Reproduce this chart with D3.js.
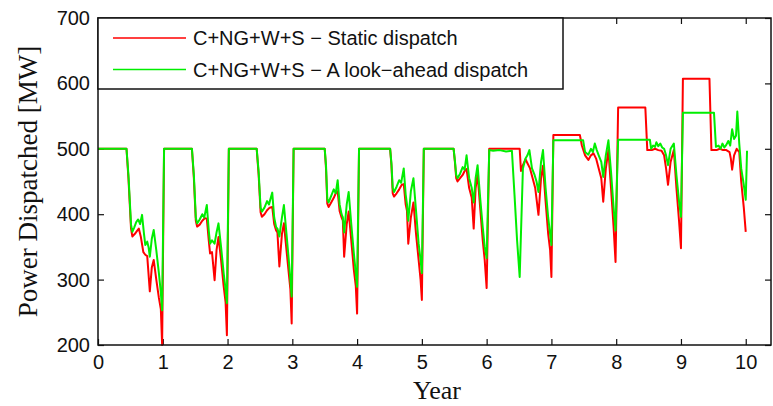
<!DOCTYPE html>
<html>
<head>
<meta charset="utf-8">
<script src="https://cdn.jsdelivr.net/npm/d3@7"></script>
<style>
  body { margin: 0; background: #fff; }
  svg { display: block; }
</style>
</head>
<body>
<div id="chart"></div>
<script>

// Chart size and margins
const width = 773;
const height = 406;
const margin = {left: 98, right: 2, top: 18, bottom: 61};

// Tick values
const xTicks = [0, 1, 2, 3, 4, 5, 6, 7, 8, 9, 10];
const yTicks = [200, 300, 400, 500, 600, 700];

// Series names
const seriesNames = ["C+NG+W+S \u2212 Static dispatch", "C+NG+W+S \u2212 A look\u2212ahead dispatch"];

// Static dispatch [year, MW]
const staticDispatch = [
  [0,500],[0.44,500],[0.47,455],[0.51,378],[0.53,366],[0.57,370],[0.60,374],[0.63,378],[0.66,366],[0.70,342],[0.73,338],[0.76,336],[0.80,282],[0.83,318],[0.86,330],[0.90,300],[0.94,272],[0.97,255],[0.99,200],[1.02,500],
  [1.45,500],[1.48,455],[1.51,390],[1.53,381],[1.57,384],[1.61,390],[1.65,394],[1.68,393],[1.71,360],[1.73,340],[1.76,342],[1.80,299],[1.83,345],[1.86,365],[1.90,330],[1.94,290],[1.97,265],[1.99,215],[2.02,500],
  [2.45,500],[2.48,460],[2.51,403],[2.53,396],[2.57,400],[2.61,406],[2.65,410],[2.69,411],[2.72,385],[2.75,375],[2.77,372],[2.80,320],[2.84,370],[2.87,386],[2.91,345],[2.95,305],[2.97,285],[2.99,233],[3.02,500],
  [3.50,500],[3.52,470],[3.54,416],[3.56,411],[3.60,418],[3.64,425],[3.67,432],[3.70,435],[3.73,405],[3.76,395],[3.78,390],[3.80,335],[3.84,385],[3.87,404],[3.91,360],[3.95,315],[3.98,290],[4.00,248],[4.03,500],
  [4.51,500],[4.53,475],[4.55,432],[4.57,427],[4.61,432],[4.65,438],[4.69,445],[4.72,446],[4.75,415],[4.77,405],[4.79,355],[4.83,395],[4.87,418],[4.91,370],[4.95,330],[4.98,300],[5.00,269],[5.03,500],
  [5.49,500],[5.51,480],[5.53,455],[5.55,450],[5.59,455],[5.63,460],[5.66,466],[5.69,469],[5.73,440],[5.77,425],[5.80,378],[5.83,440],[5.86,461],[5.90,410],[5.94,360],[5.97,330],[6.00,287],[6.04,500],
  [6.51,500],[6.53,466],[6.56,475],[6.60,484],[6.63,478],[6.67,470],[6.71,455],[6.75,440],[6.80,399],[6.84,455],[6.87,474],[6.91,420],[6.95,370],[6.98,345],[7.00,304],[7.03,521],
  [7.44,521],[7.47,505],[7.52,490],[7.57,483],[7.61,490],[7.65,493],[7.69,485],[7.73,470],[7.77,455],[7.80,419],[7.84,470],[7.88,498],[7.92,440],[7.96,380],[7.99,327],[8.03,563],
  [8.45,563],[8.48,498],[8.55,498],[8.60,500],[8.65,498],[8.70,497],[8.74,490],[8.77,470],[8.80,445],[8.84,480],[8.89,498],[8.93,440],[8.97,390],[9.00,348],[9.03,607],
  [9.44,607],[9.47,498],[9.55,498],[9.60,500],[9.65,498],[9.70,498],[9.75,495],[9.77,485],[9.79,468],[9.82,490],[9.86,500],[9.90,495],[9.93,450],[9.97,410],[10.00,373]
];

// Look-ahead dispatch [year, MW]
const lookAheadDispatch = [
  [0,500],[0.44,500],[0.47,460],[0.51,384],[0.53,373],[0.56,380],[0.59,388],[0.62,392],[0.65,385],[0.68,399],[0.71,370],[0.73,353],[0.76,358],[0.78,350],[0.80,335],[0.83,362],[0.86,376],[0.90,345],[0.94,310],[0.97,280],[0.99,253],[1.02,500],
  [1.45,500],[1.48,460],[1.51,395],[1.53,386],[1.57,392],[1.61,400],[1.64,395],[1.68,414],[1.71,375],[1.73,355],[1.76,360],[1.80,355],[1.83,372],[1.86,386],[1.90,350],[1.94,310],[1.97,285],[1.99,264],[2.02,500],
  [2.45,500],[2.48,465],[2.51,410],[2.53,404],[2.57,410],[2.61,420],[2.64,415],[2.69,433],[2.72,395],[2.75,380],[2.77,378],[2.80,366],[2.84,395],[2.87,414],[2.91,370],[2.95,325],[2.97,300],[2.99,274],[3.02,500],
  [3.50,500],[3.52,475],[3.54,423],[3.56,418],[3.60,428],[3.64,438],[3.67,432],[3.70,452],[3.73,415],[3.76,400],[3.78,395],[3.80,372],[3.84,415],[3.87,434],[3.91,385],[3.95,340],[3.98,310],[4.00,289],[4.03,500],
  [4.51,500],[4.53,478],[4.55,440],[4.57,434],[4.61,442],[4.65,452],[4.68,448],[4.72,470],[4.75,430],[4.77,415],[4.79,390],[4.83,435],[4.87,455],[4.91,405],[4.95,355],[4.98,330],[5.00,310],[5.03,500],
  [5.49,500],[5.51,482],[5.53,460],[5.55,455],[5.59,462],[5.63,472],[5.66,468],[5.69,490],[5.73,455],[5.77,440],[5.80,418],[5.83,455],[5.86,475],[5.90,425],[5.94,380],[5.97,350],[6.00,333],[6.04,498],
  [6.10,497],[6.20,498],[6.30,496],[6.39,497],[6.43,430],[6.47,360],[6.51,304],[6.56,470],[6.60,485],[6.63,490],[6.66,498],[6.70,470],[6.74,460],[6.77,450],[6.80,434],[6.84,480],[6.87,498],[6.91,440],[6.95,395],[6.98,370],[7.00,353],[7.03,513],
  [7.49,513],[7.52,495],[7.57,491],[7.61,500],[7.64,495],[7.67,508],[7.70,498],[7.73,490],[7.77,480],[7.80,457],[7.84,490],[7.88,513],[7.92,465],[7.96,410],[7.99,375],[8.03,514],
  [8.52,514],[8.54,500],[8.57,505],[8.60,503],[8.62,510],[8.65,504],[8.68,508],[8.71,502],[8.74,500],[8.77,490],[8.80,475],[8.84,500],[8.89,508],[8.93,460],[8.97,420],[9.00,396],[9.03,555],
  [9.51,555],[9.54,503],[9.58,505],[9.61,500],[9.64,508],[9.67,502],[9.70,506],[9.73,512],[9.76,505],[9.79,530],[9.82,515],[9.85,520],[9.87,557],[9.90,508],[9.93,470],[9.97,445],[10.00,422],[10.02,497]
];

const colors = ["#ff0000", "#00ee00"];

const svg = d3.select("#chart")
  .append("svg")
  .attr("width", width)
  .attr("height", height);

// Scales
const xScale = d3.scaleLinear()
  .domain([0, 10.39])
  .range([margin.left, width - margin.right]);

const yScale = d3.scaleLinear()
  .domain([200, 700])
  .range([height - margin.bottom, margin.top]);

/*
  Axes (matlab style box, ticks inside on all four sides)
*/
const tickLen = 6;

svg.append("g")
  .attr("transform", `translate(0,${height - margin.bottom})`)
  .call(d3.axisBottom(xScale).tickValues(xTicks).tickSize(-tickLen).tickPadding(10).tickFormat(d3.format("d")))
  .call(g => g.select(".domain").remove())
  .attr("font-size", "20px")
  .attr("font-family", "Liberation Sans, Arial, sans-serif");

svg.append("g")
  .attr("transform", `translate(0,${margin.top})`)
  .call(d3.axisTop(xScale).tickValues(xTicks).tickSize(-tickLen).tickFormat(""))
  .call(g => g.select(".domain").remove());

svg.append("g")
  .attr("transform", `translate(${margin.left},0)`)
  .call(d3.axisLeft(yScale).tickValues(yTicks).tickSize(-tickLen).tickPadding(8))
  .call(g => g.select(".domain").remove())
  .attr("font-size", "20px")
  .attr("font-family", "Liberation Sans, Arial, sans-serif");

svg.append("g")
  .attr("transform", `translate(${width - margin.right},0)`)
  .call(d3.axisRight(yScale).tickValues(yTicks).tickSize(-tickLen).tickFormat(""))
  .call(g => g.select(".domain").remove());

svg.selectAll(".tick line").attr("stroke", "#111").attr("stroke-width", 1.2);
svg.selectAll(".tick text").attr("fill", "#111");

/*
  Lines
*/
const line = d3.line()
  .x(d => xScale(d[0]))
  .y(d => yScale(d[1]));

[staticDispatch, lookAheadDispatch].forEach((series, i) => {
  svg.append("path")
    .datum(series)
    .attr("fill", "none")
    .attr("stroke", colors[i])
    .attr("stroke-width", 2)
    .attr("stroke-linejoin", "round")
    .attr("d", line);
});

// Plot box
svg.append("rect")
  .attr("x", margin.left)
  .attr("y", margin.top)
  .attr("width", width - margin.left - margin.right)
  .attr("height", height - margin.top - margin.bottom)
  .attr("fill", "none")
  .attr("stroke", "#111")
  .attr("stroke-width", 1.5);

/*
  Legend
*/
const legend = svg.append("g");

legend.append("rect")
  .attr("x", margin.left)
  .attr("y", margin.top)
  .attr("width", 465)
  .attr("height", 71)
  .attr("fill", "#fff")
  .attr("stroke", "#111")
  .attr("stroke-width", 1.5);

seriesNames.forEach((name, i) => {
  const ly = 38 + i * 31.5;
  legend.append("line")
    .attr("x1", 113).attr("x2", 186)
    .attr("y1", ly).attr("y2", ly)
    .attr("stroke", colors[i])
    .attr("stroke-width", 1.6);
  legend.append("text")
    .attr("x", 193)
    .attr("y", ly + 7)
    .attr("font-size", "20px")
    .attr("font-family", "Liberation Sans, Arial, sans-serif")
    .attr("fill", "#111")
    .text(name);
});

/*
  Axis titles
*/
svg.append("text")
  .attr("x", 437)
  .attr("y", 399)
  .attr("text-anchor", "middle")
  .attr("font-size", "26px")
  .attr("font-family", "Liberation Serif, Times New Roman, serif")
  .attr("fill", "#111")
  .text("Year");

svg.append("text")
  .attr("transform", `translate(37,${(margin.top + height - margin.bottom) / 2}) rotate(-90)`)
  .attr("text-anchor", "middle")
  .attr("font-size", "27px")
  .attr("font-family", "Liberation Serif, Times New Roman, serif")
  .attr("fill", "#111")
  .text("Power Dispatched [MW]");

</script>
</body>
</html>
